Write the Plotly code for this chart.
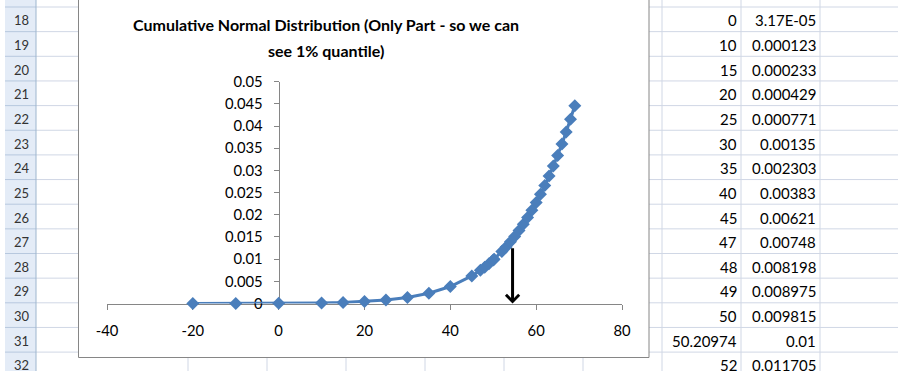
import plotly.graph_objects as go

W, H = 898, 371

# Cumulative normal probabilities for the lower tail
x_vals = [-20, -10, 0, 10, 15, 20, 25, 30, 35, 40, 45, 47, 48, 49, 50, 50.20974,
          52, 53, 54, 55, 56, 57, 58, 59, 60, 61, 62, 63, 64, 65, 66, 67, 68, 69]
cdf_vals = [1.53e-06, 7.36e-06, 3.17e-05, 0.000123, 0.000233, 0.000429, 0.000771,
            0.00135, 0.002303, 0.00383, 0.00621, 0.00748, 0.008198, 0.008975,
            0.009815, 0.01, 0.011705, 0.01276, 0.0139, 0.01513, 0.01645, 0.01786,
            0.01939, 0.02101, 0.02275, 0.02461, 0.0266, 0.02872, 0.03097, 0.03337,
            0.03593, 0.03864, 0.04152, 0.04457]

# worksheet rows shown beside the chart
row_numbers = [18, 19, 20, 21, 22, 23, 24, 25, 26, 27, 28, 29, 30, 31, 32]
table_first_point = 2  # row 18 holds the point x = 0

x_tick_vals = [-40, -20, 0, 20, 40, 60, 80]
x_tick_text = ["-40", "-20", "0", "20", "40", "60", "80"]
y_tick_vals = [0, 0.005, 0.01, 0.015, 0.02, 0.025, 0.03, 0.035, 0.04, 0.045, 0.05]
y_tick_text = ["0", "0.005", "0.01", "0.015", "0.02", "0.025", "0.03", "0.035",
               "0.04", "0.045", "0.05"]

# marker pointing down at the 1% quantile region
arrow_x = 54.5
arrow_top = 0.0128

title_lines = ["Cumulative Normal Distribution (Only Part - so we can",
               "see 1% quantile)"]

FONT = "Lato"
BLUE = "#4A7EBB"
AXIS_GREY = "#868686"
GRID = "#D0D7E5"


def px(x):
    return x / W


def py(y):
    return 1 - y / H


def general_format(v):
    """Spreadsheet 'General' style number text in an 8 character column."""
    if float(v).is_integer():
        return str(int(v))
    if abs(v) < 1e-4:
        return f"{v:.2E}"
    decimals = max(0, 8 - len(str(int(abs(v)))) - 1)
    return f"{v:.{decimals}f}".rstrip("0").rstrip(".")


# plot area geometry (pixels)
PLOT_L, PLOT_R = 107.0, 622.0
PLOT_B, PLOT_T = 303.5, 81.7
x_range = [x_tick_vals[0], x_tick_vals[-1]]
y_axis_px = PLOT_L + (0 - x_range[0]) / (x_range[1] - x_range[0]) * (PLOT_R - PLOT_L)

ROW_TOP, ROW_H = 7.0, 24.65
HEADER_L, HEADER_R = 5.0, 36.0
col_lines = [188, 267, 346, 425, 504, 583, 662, 741, 820]
CHART_L, CHART_R, CHART_B = 78.5, 649.0, 357.5

shapes = []
# row header strip
shapes.append(dict(type="rect", xref="paper", yref="paper", x0=px(HEADER_L), x1=px(HEADER_R),
                   y0=0, y1=1, fillcolor="#E4ECF7", line=dict(width=0), layer="below"))
for k in range(len(row_numbers) + 1):
    yb = ROW_TOP + k * ROW_H
    shapes.append(dict(type="line", xref="paper", yref="paper", x0=px(HEADER_L), x1=px(HEADER_R),
                       y0=py(yb), y1=py(yb), line=dict(color="#B7C8DE", width=1), layer="below"))
    shapes.append(dict(type="line", xref="paper", yref="paper", x0=px(HEADER_R), x1=1,
                       y0=py(yb), y1=py(yb), line=dict(color=GRID, width=1), layer="below"))
shapes.append(dict(type="line", xref="paper", yref="paper", x0=px(HEADER_R), x1=px(HEADER_R),
                   y0=0, y1=1, line=dict(color="#9EB6CE", width=1), layer="below"))
for cx in col_lines:
    shapes.append(dict(type="line", xref="paper", yref="paper", x0=px(cx), x1=px(cx),
                       y0=0, y1=1, line=dict(color=GRID, width=1), layer="below"))
# chart area
shapes.append(dict(type="rect", xref="paper", yref="paper", x0=px(CHART_L), x1=px(CHART_R),
                   y0=py(CHART_B), y1=py(-3), fillcolor="white",
                   line=dict(color=AXIS_GREY, width=1), layer="below"))

annotations = []
for i, rn in enumerate(row_numbers):
    yc = ROW_TOP + (i + 0.5) * ROW_H + 1.0
    annotations.append(dict(xref="paper", yref="paper", x=px(21.5), y=py(yc), text=str(rn),
                            showarrow=False, xanchor="center", yanchor="middle",
                            font=dict(family=FONT, size=13, color="#333333")))
    j = table_first_point + i
    if j < len(x_vals):
        annotations.append(dict(xref="paper", yref="paper", x=px(739), y=py(yc),
                                text=general_format(x_vals[j]), showarrow=False,
                                xanchor="right", yanchor="middle",
                                font=dict(family=FONT, size=15, color="black")))
        annotations.append(dict(xref="paper", yref="paper", x=px(818), y=py(yc),
                                text=general_format(cdf_vals[j]), showarrow=False,
                                xanchor="right", yanchor="middle",
                                font=dict(family=FONT, size=15, color="black")))

for line_text, yc in zip(title_lines, [25, 50.5]):
    annotations.append(dict(xref="paper", yref="paper", x=px(326), y=py(yc),
                            text=f"<b>{line_text}</b>", showarrow=False,
                            xanchor="center", yanchor="middle",
                            font=dict(family=FONT, size=16, color="black")))

annotations.append(dict(xref="x", yref="y", x=arrow_x, y=0, axref="x", ayref="y",
                        ax=arrow_x, ay=arrow_top, text="", showarrow=True,
                        arrowhead=4, arrowsize=0.85, arrowwidth=3, arrowcolor="black",
                        standoff=0, startstandoff=0))

fig = go.Figure()
fig.add_trace(go.Scatter(
    x=x_vals, y=cdf_vals, mode="lines+markers",
    line=dict(color=BLUE, width=3),
    marker=dict(symbol="diamond", size=10, color=BLUE),
    cliponaxis=False, showlegend=False, hoverinfo="skip",
))

fig.update_layout(
    width=W, height=H,
    margin=dict(l=0, r=0, t=0, b=0, pad=0, autoexpand=False),
    paper_bgcolor="white", plot_bgcolor="rgba(0,0,0,0)",
    shapes=shapes, annotations=annotations,
    xaxis=dict(
        domain=[px(PLOT_L), px(PLOT_R)], range=x_range,
        tickmode="array", tickvals=x_tick_vals, ticktext=x_tick_text,
        showline=True, linecolor=AXIS_GREY, linewidth=1,
        ticks="outside", ticklen=5, tickcolor=AXIS_GREY,
        showgrid=False, zeroline=False, layer="below traces",
        tickfont=dict(family=FONT, size=14.8, color="black"),
        ticklabelstandoff=9, fixedrange=True, automargin=False,
    ),
    yaxis=dict(
        domain=[py(PLOT_B), py(PLOT_T)], range=[0, 0.05],
        anchor="free", position=px(y_axis_px),
        tickmode="array", tickvals=y_tick_vals, ticktext=y_tick_text,
        showline=True, linecolor=AXIS_GREY, linewidth=1,
        ticks="outside", ticklen=5, tickcolor=AXIS_GREY,
        showgrid=False, zeroline=False, layer="below traces",
        tickfont=dict(family=FONT, size=14.8, color="black"),
        ticklabelstandoff=8, fixedrange=True, automargin=False,
    ),
)

fig.write_html("out.html", config={"displayModeBar": False})
